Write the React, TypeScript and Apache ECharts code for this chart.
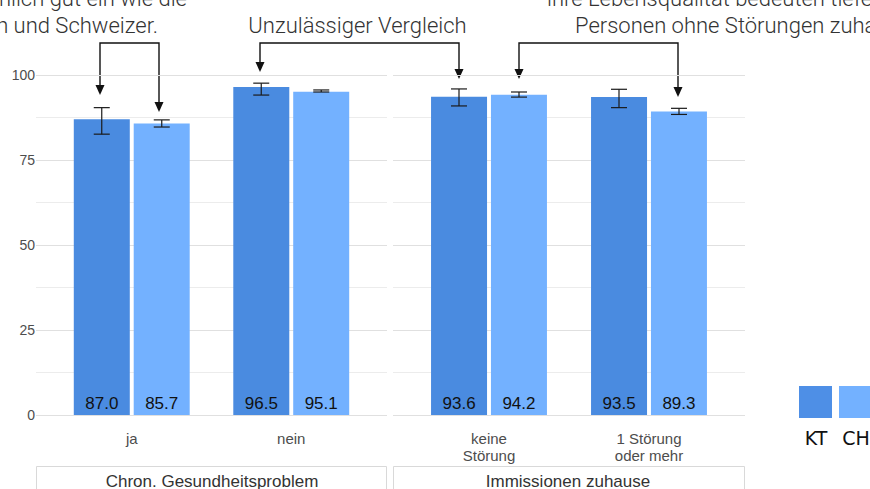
import React, { useEffect, useRef } from "react";
import * as echarts from "echarts";

// ---- data ----
const panel1Categories = ["ja", "nein"];
const panel2Categories = ["keine\nStörung", "1 Störung\noder mehr"];
const panel1Title = "Chron. Gesundheitsproblem";
const panel2Title = "Immissionen zuhause";

const ktPanel1 = [87.0, 96.5];
const chPanel1 = [85.7, 95.1];
const ktPanel2 = [93.6, 93.5];
const chPanel2 = [94.2, 89.3];

const ktErrLow1 = [82.6, 94.1];
const ktErrHigh1 = [90.4, 97.6];
const chErrLow1 = [84.7, 95.0];
const chErrHigh1 = [86.8, 95.6];
const ktErrLow2 = [90.9, 90.4];
const ktErrHigh2 = [95.9, 95.8];
const chErrLow2 = [93.5, 88.4];
const chErrHigh2 = [95.0, 90.2];

const yTicks = [0, 25, 50, 75, 100];
const seriesNames = ["KT", "CH"];

const KT_COLOR = "#4a8be0";
const CH_COLOR = "#73b1ff";
const TITLE_FONT = "Roboto";
const AXIS_FONT = "Liberation Sans";

export default function App() {
  const ref = useRef<HTMLDivElement>(null);

  useEffect(() => {
    if (!ref.current) return;
    const chart = echarts.init(ref.current, null, { renderer: "svg" });

    const top = 75;
    const height = 340;
    const barWidth = 56;
    const barOffset = 30;

    const bgGrid = (left: number, width: number) => ({ left, width, top, height });

    const yAxisBase = (gridIndex: number, showLines: boolean, showLabels: boolean) => ({
      type: "value",
      gridIndex,
      min: yTicks[0],
      max: yTicks[yTicks.length - 1],
      interval: 25,
      axisLine: { show: false },
      axisTick: { show: false },
      axisLabel: {
        show: showLabels,
        fontFamily: AXIS_FONT,
        fontSize: 14,
        color: "#4d4d4d",
        margin: 1,
      },
      splitLine: { show: showLines, lineStyle: { color: "#e0e0e0", width: 1 } },
      minorTick: { show: false, splitNumber: 2 },
      minorSplitLine: { show: showLines, lineStyle: { color: "#ececec", width: 1 } },
    });

    const bgX = (gridIndex: number) => ({
      type: "category",
      gridIndex,
      data: [""],
      show: false,
    });
    const barX = (gridIndex: number, data: string[]) => ({
      type: "category",
      gridIndex,
      data,
      axisLine: { show: false },
      axisTick: { show: false },
      axisLabel: {
        fontFamily: AXIS_FONT,
        fontSize: 15,
        color: "#4d4d4d",
        margin: 15,
        lineHeight: 17,
        interval: 0,
      },
      splitLine: { show: false },
    });

    const barSeries = (name: string, data: number[], color: string, axisIdx: number) => ({
      type: "bar",
      name,
      xAxisIndex: axisIdx,
      yAxisIndex: axisIdx,
      data,
      barWidth,
      barGap: "7%",
      itemStyle: { color },
      label: {
        show: true,
        position: "insideBottom",
        distance: 3,
        fontFamily: AXIS_FONT,
        fontSize: 17,
        color: "#111",
        formatter: (p: any) => Number(p.value).toFixed(1),
      },
    });

    const errSeries = (low: number[], high: number[], dx: number, axisIdx: number) => ({
      type: "custom",
      xAxisIndex: axisIdx,
      yAxisIndex: axisIdx,
      z: 5,
      data: low.map((l, i) => [i, l, high[i]]),
      renderItem: (params: any, api: any) => {
        const lo = api.coord([api.value(0), api.value(1)]);
        const hi = api.coord([api.value(0), api.value(2)]);
        const x = lo[0] + dx;
        const cap = 8;
        const style = { stroke: "#1a1a1a", lineWidth: 1.2 };
        return {
          type: "group",
          children: [
            { type: "line", shape: { x1: x, y1: lo[1], x2: x, y2: hi[1] }, style },
            { type: "line", shape: { x1: x - cap, y1: lo[1], x2: x + cap, y2: lo[1] }, style },
            { type: "line", shape: { x1: x - cap, y1: hi[1], x2: x + cap, y2: hi[1] }, style },
          ],
        };
      },
    });

    const arrow = (x1: number, tip1: number, x2: number, tip2: number, yTop: number) => {
      const s = { stroke: "#111", lineWidth: 1.4, fill: "none" };
      const head = (x: number, y: number) => ({
        type: "polygon",
        shape: { points: [[x - 4.5, y - 10], [x + 4.5, y - 10], [x, y]] },
        style: { fill: "#111" },
      });
      return [
        {
          type: "polyline",
          shape: { points: [[x1, tip1 - 8], [x1, yTop], [x2, yTop], [x2, tip2 - 8]] },
          style: s,
        },
        head(x1, tip1),
        head(x2, tip2),
      ];
    };

    const titleStyle = (text: string, align: string) => ({
      text,
      fontFamily: TITLE_FONT,
      fontWeight: 300,
      fontSize: 22,
      fill: "#333",
      textAlign: align,
      textVerticalAlign: "middle",
    });

    const graphic: any[] = [
      ...arrow(100, 95, 159, 112, 43),
      ...arrow(260, 72, 459, 79, 43),
      ...arrow(519, 79, 678, 97, 43),
      { type: "text", x: 187, y: -2, style: titleStyle("Personen mit chronischen Gesundheitsproblemen schätzen ihre Lebensqualität ähnlich gut ein wie die", "right") },
      { type: "text", x: 158, y: 25, style: titleStyle("Schweizerinnen und Schweizer.", "right") },
      { type: "text", x: 357.5, y: 25, style: titleStyle("Unzulässiger Vergleich", "center") },
      { type: "text", x: 547, y: -2, style: titleStyle("ihre Lebensqualität bedeuten tiefer ein als", "left") },
      { type: "text", x: 575, y: 25, style: titleStyle("Personen ohne Störungen zuhause.", "left") },
      // strips
      { type: "rect", shape: { x: 36.5, y: 466.5, width: 350, height: 40 }, style: { fill: "#fff", stroke: "#d9d9d9", lineWidth: 1 } },
      { type: "rect", shape: { x: 393.5, y: 466.5, width: 351, height: 40 }, style: { fill: "#fff", stroke: "#d9d9d9", lineWidth: 1 } },
      { type: "text", x: 212, y: 481, style: { text: panel1Title, fontFamily: AXIS_FONT, fontSize: 17, fill: "#333", textAlign: "center", textVerticalAlign: "middle" } },
      { type: "text", x: 568, y: 481, style: { text: panel2Title, fontFamily: AXIS_FONT, fontSize: 17, fill: "#333", textAlign: "center", textVerticalAlign: "middle" } },
      // legend
      { type: "rect", shape: { x: 799, y: 386, width: 33, height: 32 }, style: { fill: "#4e8fe6" } },
      { type: "rect", shape: { x: 839, y: 386, width: 33, height: 32 }, style: { fill: CH_COLOR } },
      { type: "text", x: 816, y: 438, style: { text: seriesNames[0], fontFamily: "DejaVu Sans", fontSize: 19, fill: "#111", textAlign: "center", textVerticalAlign: "middle" } },
      { type: "text", x: 856, y: 438, style: { text: seriesNames[1], fontFamily: "DejaVu Sans", fontSize: 19, fill: "#111", textAlign: "center", textVerticalAlign: "middle" } },
      { type: "text", x: 848, y: 497, style: { text: "©", fontFamily: "DejaVu Sans", fontSize: 19, fill: "#555", textAlign: "left", textVerticalAlign: "middle" } },
    ];

    chart.setOption({
      animation: false,
      backgroundColor: "#ffffff",
      grid: [
        bgGrid(36, 351),
        bgGrid(52, 319),
        bgGrid(393, 352),
        bgGrid(409, 320),
      ],
      xAxis: [bgX(0), barX(1, panel1Categories), bgX(2), barX(3, panel2Categories)],
      yAxis: [
        yAxisBase(0, true, true),
        yAxisBase(1, false, false),
        yAxisBase(2, true, false),
        yAxisBase(3, false, false),
      ],
      series: [
        barSeries(seriesNames[0], ktPanel1, KT_COLOR, 1),
        barSeries(seriesNames[1], chPanel1, CH_COLOR, 1),
        barSeries(seriesNames[0], ktPanel2, KT_COLOR, 3),
        barSeries(seriesNames[1], chPanel2, CH_COLOR, 3),
        errSeries(ktErrLow1, ktErrHigh1, -barOffset, 1),
        errSeries(chErrLow1, chErrHigh1, barOffset, 1),
        errSeries(ktErrLow2, ktErrHigh2, -barOffset, 3),
        errSeries(chErrLow2, chErrHigh2, barOffset, 3),
      ],
      graphic,
    });

    return () => chart.dispose();
  }, []);

  return <div ref={ref} style={{ width: 870, height: 489, position: "absolute", left: 0, top: 0 }} />;
}
